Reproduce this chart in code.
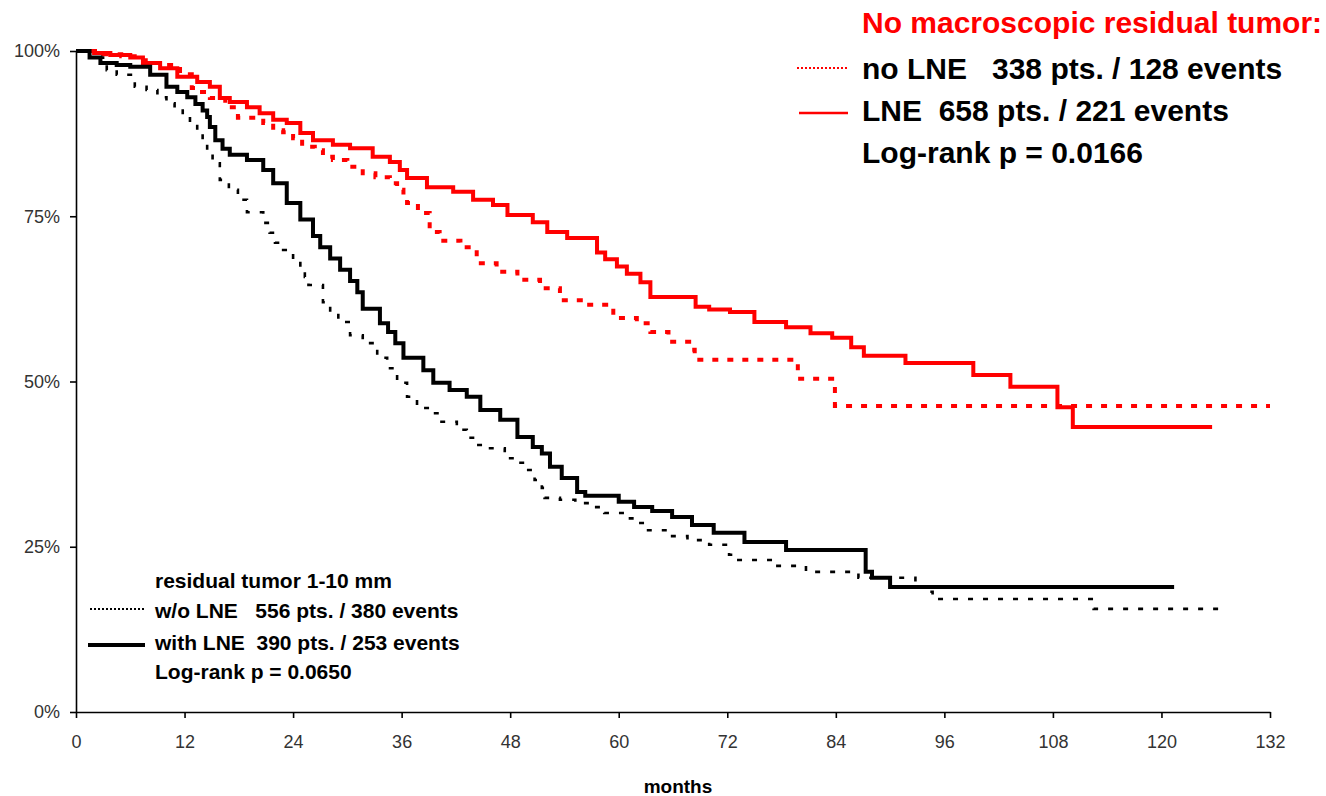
<!DOCTYPE html>
<html>
<head>
<meta charset="utf-8">
<script src="https://cdn.jsdelivr.net/npm/d3@7"></script>
<style>
  body { margin: 0; background: #fff; }
  svg { display: block; }
  .tick text { font-family: "Liberation Sans", Arial, sans-serif; font-size: 18px; fill: #333; }
  .lbl { font-family: "Liberation Sans", Arial, sans-serif; font-weight: bold; white-space: pre; }
</style>
</head>
<body>
<div class="chart"></div>
<script>
"use strict";

// tick labels
const xTicks = [0, 12, 24, 36, 48, 60, 72, 84, 96, 108, 120, 132];
const yTicks = [0, 25, 50, 75, 100];

// no macroscopic residual tumor, no LNE (red dotted)
const redNoLneMonths = [0, 3, 5, 7, 8.5, 10, 11.5, 12.8, 13.7, 14.8, 16.5, 17.9, 20.7, 21.8, 22.9, 24, 25, 26.4, 27.3, 28.4,
  30, 31.7, 33.1, 34.7, 35.5, 36.2, 36.6, 37.8, 39.1, 40.2, 42.5, 44.3, 46.5, 48.8, 51.3, 53.5, 56.1, 59.4, 62, 63.5,
  65.5, 68.1, 68.4, 79.8, 83.9, 132];
const redNoLneSurv = [100, 99.5, 99.2, 98.6, 98.2, 97.9, 96.5, 94.4, 93.8, 92.9, 91.5, 89.9, 89.1, 88, 87.7, 86.8, 85.5, 85, 84, 83.5,
  82.5, 81.5, 80.9, 80, 79, 77.9, 77, 75.5, 72.6, 71.3, 70.3, 67.9, 66.6, 65.4, 64.1, 62.3, 61.6, 59.6, 58.8, 57.5,
  56, 54.8, 53.3, 50.4, 46.3, 46.3];

// no macroscopic residual tumor, LNE (red solid)
const redLneMonths = [0, 2, 3.8, 6, 7.4, 9.3, 11.2, 13.4, 14.8, 15.9, 17, 18.9, 20.3, 21.8, 23.3, 24.8, 26.2, 28.4, 30.3, 32.8,
  34.7, 35.8, 36.6, 38.8, 41.7, 43.9, 46.1, 47.7, 50.5, 52.1, 54.3, 57.6, 58.5, 59.8, 60.9, 62.4, 63.5, 68.5, 70, 72.3,
  75, 78.5, 81.2, 83.6, 85.7, 87.1, 91.7, 99.2, 103.3, 108.5, 110.2, 125.6];
const redLneSurv = [100, 99.7, 99.4, 99, 98.2, 97.4, 96.1, 95.3, 94.6, 92.9, 92.3, 91.5, 90.6, 89.6, 89.1, 87.6, 86.5, 85.8, 85.3, 84,
  83.2, 82, 80.8, 79.4, 78.7, 77.5, 76.7, 75.2, 74.1, 72.6, 71.7, 69.5, 68.5, 67.4, 66.3, 65, 62.8, 61.3, 60.9, 60.5,
  59, 58.2, 57.3, 56.6, 55.2, 53.9, 52.8, 51, 49.2, 46.1, 43.1, 43.1];

// residual tumor 1-10 mm, w/o LNE (black dotted)
const blackNoLneMonths = [0, 1.5, 3.4, 4.5, 6.5, 7.8, 9, 10, 10.9, 11.8, 12.6, 13.4, 14, 14.5, 15.1, 15.9, 16.9, 17.9, 18.9, 20.7,
  21.4, 22, 22.9, 24, 24.8, 25.3, 25.7, 27.3, 28.1, 29, 30.3, 31.7, 33.3, 34.4, 35.5, 36.6, 37.7, 39.1, 40.2, 42.1,
  43.2, 44.3, 45.2, 47.4, 48.8, 49.6, 50.7, 51.5, 51.8, 53.5, 55.2, 56.8, 58.4, 60.6, 62.2, 63.1, 65.6, 67.6, 70, 72.2,
  72.7, 77.2, 80.7, 86.5, 92.8, 94.4, 94.7, 112.5, 126.6];
const blackNoLneSurv = [100, 99, 97.1, 96.4, 94.6, 94.1, 93, 92.1, 91.4, 90.3, 89.1, 87.6, 86.1, 84.6, 83, 80.5, 79, 77.5, 75.6, 74,
  72.5, 71, 69.9, 68.4, 67.3, 65.8, 64.6, 62, 60.5, 59, 57, 55.8, 53.6, 52, 49.8, 47.7, 46, 45.2, 43.9, 42.7,
  41.5, 40.4, 39.9, 38.4, 37.7, 36.6, 35.1, 33.9, 32.4, 32.1, 31.6, 31, 30.1, 29.3, 28.6, 27.5, 26.6, 26, 25.3, 23.8,
  23, 22.1, 21.2, 20.3, 18.8, 18.2, 17.1, 15.6, 15.6];

// residual tumor 1-10 mm, with LNE (black solid)
const blackLneMonths = [0, 1.5, 2.7, 4.5, 6, 8.2, 10, 11.2, 12.3, 13.2, 14, 14.5, 14.8, 15.4, 16.2, 17, 18.9, 20.7, 21.8, 23.3,
  24.8, 26.2, 27, 28.1, 29.2, 30.3, 31.1, 31.7, 33.6, 34.5, 35.3, 36.2, 38.4, 39.5, 41.3, 43.2, 44.7, 46.9, 48.8, 50.5,
  51.5, 52.4, 53.7, 55.4, 56.3, 60, 61.7, 63.7, 65.9, 68.1, 70.5, 73.9, 78.5, 87.3, 88, 90, 121.4];
const blackLneSurv = [100, 99, 98.2, 97.9, 97.6, 96.4, 94.6, 93.8, 93, 92, 91, 90, 88.5, 86.5, 85.2, 84.3, 83.5, 82, 80, 77,
  74.5, 72, 70.3, 68.6, 66.9, 65.2, 63.5, 61, 58.8, 57.5, 55.8, 53.6, 51.7, 49.8, 48.7, 47.7, 45.7, 44.2, 41.6, 40.1,
  39.1, 37.1, 35.4, 33.3, 32.7, 31.8, 31, 30.4, 29.5, 28.3, 27.1, 25.7, 24.5, 21.2, 20.3, 18.9, 18.9];

const series = [
  { months: redNoLneMonths, surv: redNoLneSurv, color: "#ff0000", width: 4, dash: "6,9" },
  { months: redLneMonths, surv: redLneSurv, color: "#ff0000", width: 4, dash: null },
  { months: blackNoLneMonths, surv: blackNoLneSurv, color: "#000", width: 2.6, dash: "5,10" },
  { months: blackLneMonths, surv: blackLneSurv, color: "#000", width: 4, dash: null }
];

const W = 1326;
const H = 796;
const margin = { top: 51, right: 56, bottom: 84, left: 76 };

const svg = d3
  .select(".chart")
  .append("svg")
  .attr("width", W)
  .attr("height", H);

svg.append("rect").attr("width", W).attr("height", H).attr("fill", "#fff");

const x = d3
  .scaleLinear()
  .domain([0, 132])
  .range([margin.left, W - margin.right]);

const y = d3
  .scaleLinear()
  .domain([0, 100])
  .range([H - margin.bottom, margin.top]);

// axes
const xAxis = d3
  .axisBottom(x)
  .tickValues(xTicks)
  .tickSize(6)
  .tickSizeOuter(0)
  .tickPadding(17);

const yAxis = d3
  .axisLeft(y)
  .tickValues(yTicks)
  .tickSize(6)
  .tickSizeOuter(0)
  .tickPadding(10)
  .tickFormat((d) => d + "%");

const xGroup = svg
  .append("g")
  .attr("class", "axis x-axis")
  .attr("transform", `translate(0, ${y(0)})`)
  .call(xAxis);

const yGroup = svg
  .append("g")
  .attr("class", "axis y-axis")
  .attr("transform", `translate(${x(0)}, 0)`)
  .call(yAxis);

[xGroup, yGroup].forEach((g) => {
  g.select(".domain").attr("stroke", "#000").attr("stroke-width", 1.6);
  g.selectAll(".tick line").attr("stroke", "#000").attr("stroke-width", 1.6);
});

svg
  .append("text")
  .attr("class", "lbl")
  .attr("x", 678)
  .attr("y", 793)
  .attr("text-anchor", "middle")
  .attr("font-size", 19)
  .text("months");

// survival curves
const line = d3
  .line()
  .curve(d3.curveStepAfter)
  .x((d) => x(d[0]))
  .y((d) => y(d[1]));

series.forEach((s) => {
  svg
    .append("path")
    .datum(d3.zip(s.months, s.surv))
    .attr("fill", "none")
    .attr("stroke", s.color)
    .attr("stroke-width", s.width)
    .attr("stroke-dasharray", s.dash)
    .attr("d", line);
});

// legend top right
const topLegend = svg.append("g");

topLegend
  .append("text")
  .attr("class", "lbl")
  .attr("x", 862)
  .attr("y", 33)
  .attr("font-size", 30)
  .attr("fill", "#ff0000")
  .text("No macroscopic residual tumor:");

const topRows = ["no LNE   338 pts. / 128 events", "LNE  658 pts. / 221 events", "Log-rank p = 0.0166"];
topLegend
  .selectAll("text.row")
  .data(topRows)
  .join("text")
  .attr("class", "lbl row")
  .attr("x", 862)
  .attr("y", (d, i) => 79 + i * 42)
  .attr("font-size", 30)
  .attr("fill", "#000")
  .text((d) => d);

topLegend
  .append("line")
  .attr("x1", 797)
  .attr("x2", 848)
  .attr("y1", 68)
  .attr("y2", 68)
  .attr("stroke", "#ff0000")
  .attr("stroke-width", 2)
  .attr("stroke-dasharray", "2,2");

topLegend
  .append("line")
  .attr("x1", 799)
  .attr("x2", 848)
  .attr("y1", 113)
  .attr("y2", 113)
  .attr("stroke", "#ff0000")
  .attr("stroke-width", 2.5);

// legend bottom left
const botLegend = svg.append("g");
const botRows = ["residual tumor 1-10 mm", "w/o LNE   556 pts. / 380 events", "with LNE  390 pts. / 253 events", "Log-rank p = 0.0650"];
const botY = [588, 618, 650, 679];

botLegend
  .selectAll("text")
  .data(botRows)
  .join("text")
  .attr("class", "lbl")
  .attr("x", 155)
  .attr("y", (d, i) => botY[i])
  .attr("font-size", 21)
  .attr("fill", "#000")
  .text((d) => d);

botLegend
  .append("line")
  .attr("x1", 90)
  .attr("x2", 146)
  .attr("y1", 609)
  .attr("y2", 609)
  .attr("stroke", "#000")
  .attr("stroke-width", 2)
  .attr("stroke-dasharray", "2,2");

botLegend
  .append("line")
  .attr("x1", 88)
  .attr("x2", 145)
  .attr("y1", 645)
  .attr("y2", 645)
  .attr("stroke", "#000")
  .attr("stroke-width", 4);
</script>
</body>
</html>
